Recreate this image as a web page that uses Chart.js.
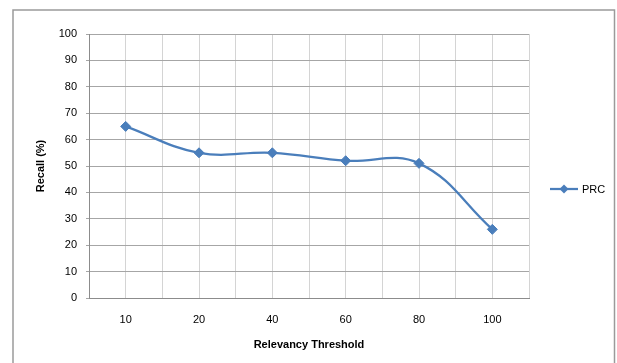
<!DOCTYPE html>
<html>
<head>
<meta charset="utf-8">
<script src="https://cdn.jsdelivr.net/npm/chart.js@4.4.0/dist/chart.umd.min.js"></script>
<style>
  html, body { margin: 0; padding: 0; background: #fff; }
  #wrap { width: 617px; height: 363px; position: relative; }
</style>
</head>
<body>
<div id="wrap"><canvas id="recallChart"></canvas></div>
<script>
const thresholds = ['10', '20', '40', '60', '80', '100'];
const prcRecall = [65, 55, 55, 52, 51, 26];
const seriesName = 'PRC';
const yTitle = 'Recall (%)';
const xTitle = 'Relevancy Threshold';

const blue = '#4a7ebb';
const font = 'Liberation Sans, Arial, sans-serif';

// white page with the grey frame Excel puts round the chart
const framePlugin = {
    id: 'frame',
    beforeDraw(chart) {
        const c = chart.ctx;
        c.save();
        c.fillStyle = '#fff';
        c.fillRect(0, 0, chart.width, chart.height);
        c.strokeStyle = '#9a9a9a';
        c.lineWidth = 1.5;
        c.beginPath();
        c.moveTo(13, chart.height);
        c.lineTo(13, 10);
        c.lineTo(614.5, 10);
        c.lineTo(614.5, chart.height);
        c.stroke();
        c.restore();
    }
};

// legend entry drawn as line + diamond, like the original
const lineLegend = {
    id: 'lineLegend',
    afterDraw(chart) {
        const c = chart.ctx;
        const ds = chart.data.datasets[0];
        const y = 189;
        c.save();
        c.strokeStyle = ds.borderColor;
        c.lineWidth = 2.25;
        c.beginPath();
        c.moveTo(550, y);
        c.lineTo(578, y);
        c.stroke();
        c.fillStyle = ds.pointBackgroundColor;
        c.beginPath();
        c.moveTo(564, y - 4.5);
        c.lineTo(568.5, y);
        c.lineTo(564, y + 4.5);
        c.lineTo(559.5, y);
        c.closePath();
        c.fill();
        c.fillStyle = '#000';
        c.font = '11px ' + font;
        c.textBaseline = 'middle';
        c.fillText(ds.label, 582, y + 0.5);
        c.restore();
    }
};

new Chart(document.getElementById('recallChart'), {
    type: 'line',
    data: {
        labels: thresholds,
        datasets: [{
            label: seriesName,
            data: prcRecall,
            borderColor: blue,
            backgroundColor: blue,
            pointBackgroundColor: blue,
            pointBorderColor: blue,
            borderWidth: 2.25,
            pointStyle: 'rectRot',
            pointRadius: 5,
            pointBorderWidth: 1,
            tension: 0.4,
            fill: false
        }]
    },
    options: {
        responsive: true,
        maintainAspectRatio: false,
        animation: false,
        layout: { padding: { left: 30, right: 88, top: 34, bottom: 0 } },
        plugins: {
            legend: { display: false },
            tooltip: { enabled: false }
        },
        scales: {
            x: {
                type: 'category',
                position: 'bottom',
                offset: true,
                grid: { offset: false, color: '#d4d4d4', lineWidth: 1, drawTicks: false },
                border: { display: true, color: '#8c8c8c', width: 1 },
                ticks: { color: '#000', font: { family: font, size: 11 }, padding: 15, maxRotation: 0 },
                title: {
                    display: true, text: xTitle, color: '#000',
                    font: { family: font, size: 11, weight: 'bold' },
                    padding: { top: 4, bottom: 11 }
                },
                afterFit: s => { s.height = 65; }
            },
            x2: {
                type: 'category',
                labels: thresholds,
                position: 'bottom',
                offset: true,
                grid: {
                    offset: true, drawTicks: false, lineWidth: 1,
                    color: ctx => ctx.index === 0 ? 'rgba(0,0,0,0)' : '#d4d4d4'
                },
                border: { display: false },
                ticks: { display: false },
                afterFit: s => { s.height = 0; }
            },
            y: {
                min: 0,
                max: 100,
                ticks: { stepSize: 10, color: '#000', font: { family: font, size: 11 }, padding: 9 },
                grid: { color: '#a6a6a6', lineWidth: 1, tickLength: 3 },
                border: { display: true, color: '#8c8c8c', width: 1 },
                title: {
                    display: true, text: yTitle, color: '#000',
                    font: { family: font, size: 11, weight: 'bold' },
                    padding: { top: 4, bottom: 4 }
                },
                afterFit: s => { s.width = 59; }
            }
        }
    },
    plugins: [framePlugin, lineLegend]
});
</script>
</body>
</html>
